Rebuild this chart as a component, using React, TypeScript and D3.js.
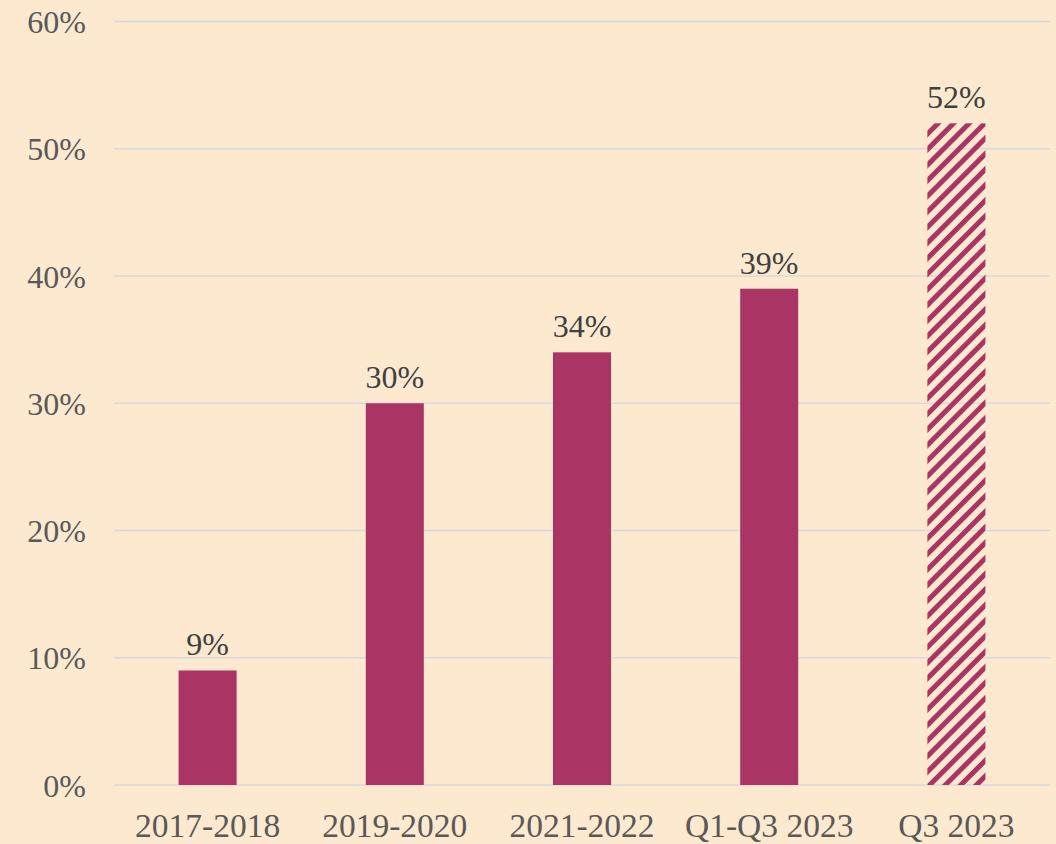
import React from "react";
import * as d3 from "d3";

const categories: string[] = ["2017-2018", "2019-2020", "2021-2022", "Q1-Q3 2023", "Q3 2023"];
const values: number[] = [9, 30, 34, 39, 52];
const hatched: boolean[] = [false, false, false, false, true];
const yTicks: number[] = [0, 10, 20, 30, 40, 50, 60];

const W = 1056;
const H = 844;
const BG = "#FDE9D0";
const BAR = "#AA3564";
const GRID = "#D9D9D9";
const FONT = "'Liberation Serif', 'DejaVu Serif', serif";

export default function App() {
  const x = d3.scaleBand<string>().domain(categories).range([114, 1050]).paddingInner(0.69).paddingOuter(0.345);
  const y = d3.scaleLinear().domain([0, 60]).range([785, 21.5]);
  const bw = x.bandwidth();

  return (
    <div style={{ position: "fixed", left: 0, top: 0, width: W, height: H, background: BG }}>
      <svg width={W} height={H} style={{ display: "block" }}>
        <defs>
          <pattern id="hatch" patternUnits="userSpaceOnUse" width={11} height={11} patternTransform="rotate(45)">
            <rect x={0} y={0} width={5} height={11} fill={BAR} />
          </pattern>
        </defs>
        <rect x={0} y={0} width={W} height={H} fill={BG} />
        {yTicks.map((t) => (
          <g key={t}>
            <line x1={114} x2={1050} y1={y(t)} y2={y(t)} stroke={GRID} strokeWidth={1.5} />
            <text x={86} y={y(t) + 11.5} textAnchor="end" fontFamily={FONT} fontSize={32} fill="#595959">
              {t}%
            </text>
          </g>
        ))}
        {categories.map((c, i) => {
          const bx = x(c)!;
          const by = y(values[i]);
          return (
            <g key={c}>
              <rect
                x={bx}
                y={by}
                width={bw}
                height={y(0) - by}
                fill={hatched[i] ? "url(#hatch)" : BAR}
              />
              <text x={bx + bw / 2} y={by - 15} textAnchor="middle" fontFamily={FONT} fontSize={32} fill="#404040">
                {values[i]}%
              </text>
              <text x={bx + bw / 2} y={837} textAnchor="middle" fontFamily={FONT} fontSize={33.5} fill="#595959">
                {c}
              </text>
            </g>
          );
        })}
      </svg>
    </div>
  );
}
